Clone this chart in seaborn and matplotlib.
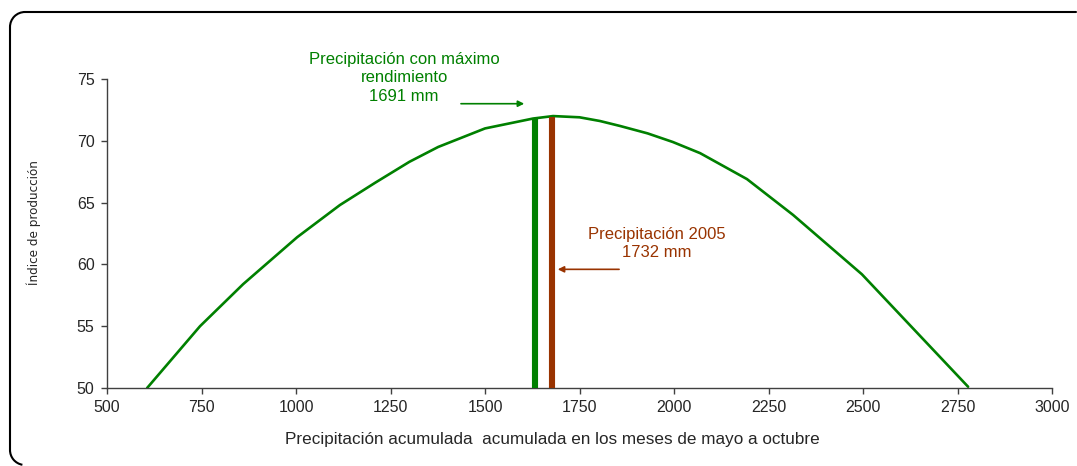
import numpy as np
import pandas as pd
import seaborn as sns
import matplotlib.pyplot as plt
from matplotlib.lines import Line2D
from matplotlib.patches import Arc
from matplotlib import font_manager

# Data
precip = [606, 746, 860, 1003, 1116, 1209, 1300, 1376, 1500, 1627, 1680,
          1750, 1804, 1857, 1930, 1997, 2069, 2193, 2315, 2497, 2778]
indice = [50.0, 55.0, 58.4, 62.2, 64.8, 66.6, 68.3, 69.5, 71.0, 71.8, 72.0,
          71.9, 71.6, 71.2, 70.6, 69.9, 69.0, 66.9, 64.0, 59.2, 50.1]

bar_x = [1632, 1677]          # drawn positions of the two markers
bar_top = [71.8, 71.9]
bar_colors = ['#008000', '#993300']

x_ticks = [500, 750, 1000, 1250, 1500, 1750, 2000, 2250, 2500, 2750, 3000]
y_ticks = [50, 55, 60, 65, 70, 75]

green = '#008000'
brown = '#993300'

sns.set_style("white")
plt.rcParams['font.family'] = ['Liberation Sans', 'DejaVu Sans']

# narrow font for the y label, if one is installed
ylab_font = None
for f in font_manager.fontManager.ttflist:
    if ('Narrow' in f.name or 'Condensed' in f.name or f.stretch in ('condensed', 'semi-condensed')) \
            and f.style == 'normal' and f.weight in (400, 'normal', 'regular'):
        ylab_font = font_manager.FontProperties(fname=f.fname, size=9.6)
        break
if ylab_font is None:
    ylab_font = font_manager.FontProperties(family='Liberation Sans', size=9.5)

df = pd.DataFrame({'precip': precip, 'indice': indice})

W, H = 1077, 466
fig = plt.figure(figsize=(W / 100, H / 100), dpi=100)
ax = fig.add_axes([0.0994, 0.1674, 0.8774, 0.6631])

# rounded frame drawn in figure pixels: top edge, left edge, two left corners
L, T, B, r = 10, H - 12, 1, 15
px = fig.dpi_scale_trans  # inches
to_in = lambda v: v / 100
fig.add_artist(Line2D([to_in(L + r), to_in(W - 1)], [to_in(T), to_in(T)],
                      transform=px, color='black', lw=1.5))
fig.add_artist(Line2D([to_in(L), to_in(L)], [to_in(B + r), to_in(T - r)],
                      transform=px, color='black', lw=1.5))
fig.add_artist(Arc((to_in(L + r), to_in(T - r)), to_in(2 * r), to_in(2 * r),
                   theta1=90, theta2=180, transform=px, color='black', lw=1.5))
fig.add_artist(Arc((to_in(L + r), to_in(B + r)), to_in(2 * r), to_in(2 * r),
                   theta1=180, theta2=260, transform=px, color='black', lw=1.5))

sns.lineplot(data=df, x='precip', y='indice', color=green, linewidth=1.9,
             ax=ax, sort=False)

for bx, bt, bc in zip(bar_x, bar_top, bar_colors):
    ax.vlines(bx, 50, bt, colors=bc, linewidth=4.4, zorder=3)

ax.set_xlim(500, 3000)
ax.set_ylim(50, 75)
ax.set_xticks(x_ticks)
ax.set_yticks(y_ticks)
ax.tick_params(axis='both', labelsize=11.5, length=4, width=1,
               color='#404040', direction='out', pad=5)
ax.tick_params(axis='x', bottom=True)
ax.tick_params(axis='y', left=True)
for s in ['top', 'right']:
    ax.spines[s].set_visible(False)
for s in ['left', 'bottom']:
    ax.spines[s].set_color('#404040')
    ax.spines[s].set_linewidth(1)

ax.set_xlabel('Precipitación acumulada  acumulada en los meses de mayo a octubre',
              fontsize=12.3)
ax.xaxis.set_label_coords(0.471, -0.142)
ax.set_ylabel('Índice de producción', fontproperties=ylab_font)
ax.yaxis.set_label_coords(-0.07, 0.534)

# annotations
ax.text(1286, 75.1, 'Precipitación con máximo\nrendimiento\n1691 mm',
        color=green, fontsize=12, ha='center', va='center',
        linespacing=1.3, clip_on=False)
ax.annotate('', xy=(1611, 73.0), xytext=(1429, 73.0),
            arrowprops=dict(arrowstyle='-|>', color=green, lw=1.2,
                            mutation_scale=9), annotation_clip=False)

ax.text(1955, 61.7, 'Precipitación 2005\n1732 mm', color=brown,
        fontsize=12, ha='center', va='center', linespacing=1.3)
ax.annotate('', xy=(1685, 59.6), xytext=(1862, 59.6),
            arrowprops=dict(arrowstyle='-|>', color=brown, lw=1.2,
                            mutation_scale=9))

fig.savefig('out.png', dpi=100)
